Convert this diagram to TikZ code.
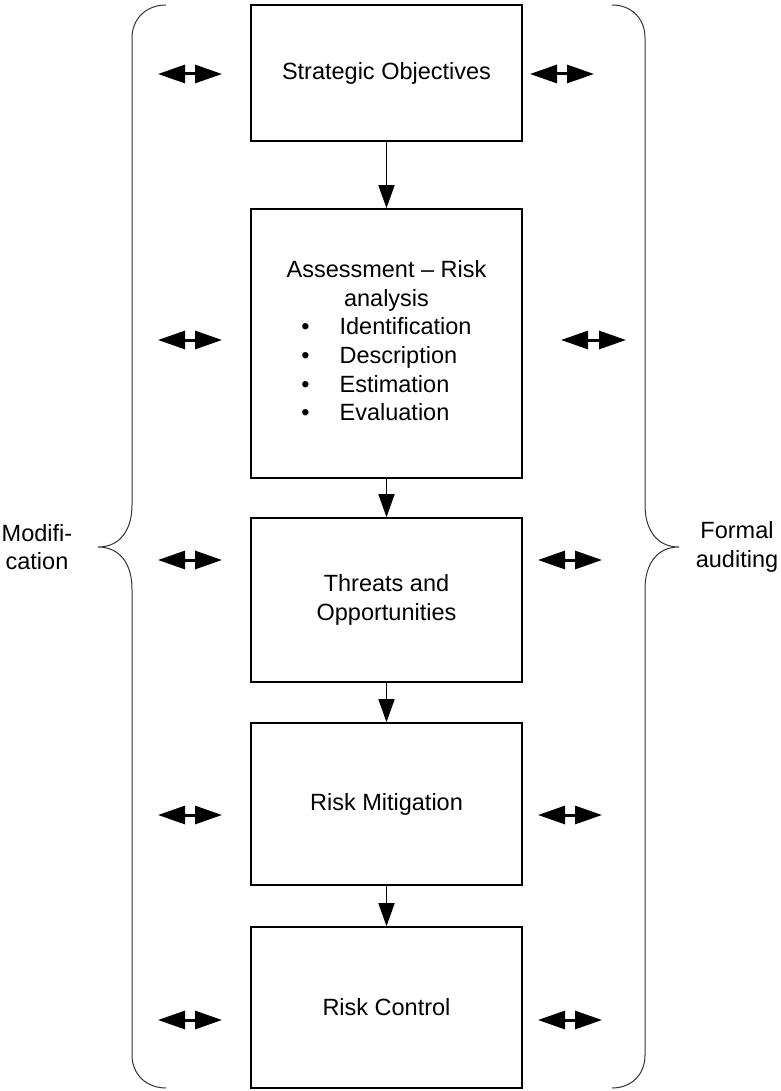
\documentclass[tikz,border=0pt]{standalone}
\usepackage{fontspec}
\setmainfont{Liberation Sans}
\usepackage{tikz}
\usetikzlibrary{arrows.meta}

\begin{document}
\begin{tikzpicture}[x=1pt, y=-1pt,
  box/.style={draw, line width=1.6pt, minimum width=271pt, inner sep=0pt, align=center},
  flow/.style={line width=1.6pt, -{Triangle[length=23pt,width=16pt]}},
  dbl/.style={line width=3pt, {Triangle[length=27pt,width=18pt]}-{Triangle[length=27pt,width=18pt]}},
  brace/.style={line width=1pt, black!80},
  side/.style={align=center}]
\useasboundingbox (0,0) rectangle (780,1091);
\fontsize{23.5}{28.6}\selectfont
\node[box, minimum height=136pt] (strat) at (386.5,73) {Strategic Objectives};
\node[box, minimum height=269pt] (assess) at (386.5,343.5) {\begin{tabular}{@{}c@{}}Assessment – Risk\\analysis\\
  \begin{tabular}{@{}l@{\hspace{30pt}}l@{}}
  \textbullet & Identification\\
  \textbullet & Description\\
  \textbullet & Estimation\\
  \textbullet & Evaluation
  \end{tabular}\end{tabular}};
\node[box, minimum height=164pt] (threat) at (386.5,600) {Threats and\\Opportunities};
\node[box, minimum height=162pt] (mitig) at (386.5,804) {Risk Mitigation};
\node[box, minimum height=161pt] (control) at (386.5,1007.5) {Risk Control};
\draw[flow] (strat) -- (assess);
\draw[flow] (assess) -- (threat);
\draw[flow] (threat) -- (mitig);
\draw[flow] (mitig) -- (control);
% left side
\draw[dbl] (158,74) -- (222,74);
\draw[dbl] (158,340) -- (222,340);
\draw[dbl] (158,560) -- (222,560);
\draw[dbl] (158,815) -- (222,815);
\draw[dbl] (158,1020) -- (222,1020);
% right side
\draw[dbl] (530,74) -- (594,74);
\draw[dbl] (561,340) -- (626,340);
\draw[dbl] (538,560) -- (602,560);
\draw[dbl] (538,815) -- (602,815);
\draw[dbl] (538,1020) -- (602,1020);
% braces
\draw[brace] (166,5) .. controls (147,5) and (132,18) .. (132,38) -- (132,505)
  .. controls (132,530) and (120,547) .. (98,547) .. controls (120,547) and (132,564) .. (132,589)
  -- (132,1055) .. controls (132,1075) and (147,1088) .. (166,1088);
\draw[brace] (612,5) .. controls (631,5) and (645,18) .. (645,38) -- (645,505)
  .. controls (645,530) and (657,547) .. (679,547) .. controls (657,547) and (645,564) .. (645,589)
  -- (645,1055) .. controls (645,1075) and (631,1088) .. (612,1088);
\node[side] (modif) at (37,547) {Modifi-\\cation};
\node[side] (audit) at (737,547) {Formal\\auditing};
\end{tikzpicture}
\end{document}
